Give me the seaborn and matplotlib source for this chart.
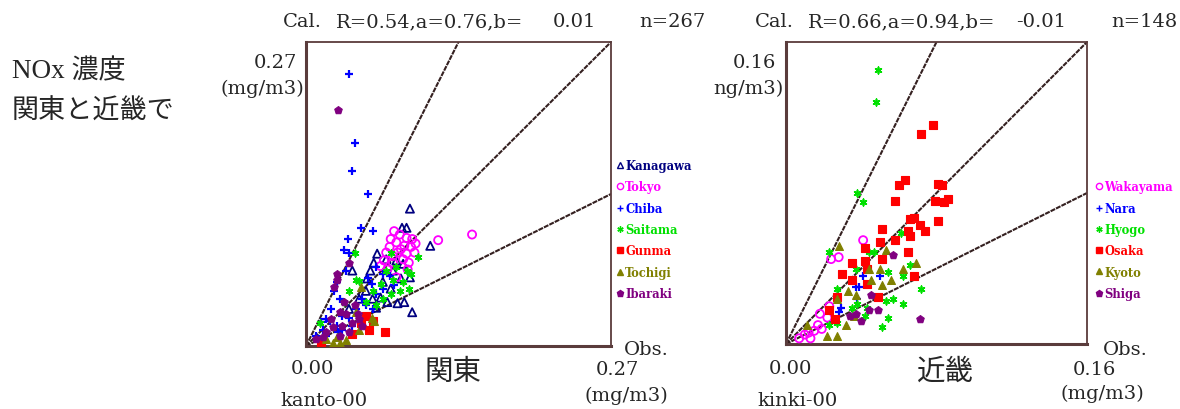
#!/usr/bin/env python3
"""
NOx obs vs cal scatter, Kanto and Kinki
"""

import pandas as pd
import numpy as np
import matplotlib
matplotlib.use("Agg")
import matplotlib.pyplot as plt
from matplotlib.lines import Line2D
import seaborn as sns

# ---- Kanto data (obs, cal) in mg/m3 ----
kanagawa_x = [0.092, 0.085, 0.089, 0.110, 0.063, 0.060, 0.057, 0.054, 0.071, 0.080, 0.086, 0.092, 0.068,
              0.075, 0.081, 0.087, 0.094, 0.053, 0.066, 0.041, 0.059, 0.077, 0.084, 0.072, 0.047, 0.062, 0.038]
kanagawa_y = [0.122, 0.105, 0.105, 0.089, 0.082, 0.074, 0.067, 0.060, 0.077, 0.076, 0.073, 0.061, 0.057,
              0.051, 0.038, 0.039, 0.030, 0.049, 0.043, 0.067, 0.042, 0.067, 0.060, 0.039, 0.042, 0.034, 0.033]
tokyo_x = [0.147, 0.117, 0.078, 0.083, 0.089, 0.094, 0.075, 0.080, 0.087, 0.093, 0.074, 0.071, 0.081,
           0.089, 0.096, 0.069, 0.077, 0.086, 0.072, 0.080, 0.090, 0.084, 0.097, 0.077, 0.091, 0.066]
tokyo_y = [0.099, 0.094, 0.102, 0.099, 0.096, 0.095, 0.095, 0.092, 0.089, 0.088, 0.088, 0.083, 0.083,
           0.082, 0.083, 0.076, 0.074, 0.077, 0.068, 0.061, 0.068, 0.086, 0.091, 0.080, 0.074, 0.071]
chiba_x = [0.038, 0.043, 0.041, 0.055, 0.049, 0.059, 0.037, 0.034, 0.038, 0.035, 0.027, 0.025, 0.030,
           0.022, 0.018, 0.027, 0.028, 0.015, 0.032, 0.021, 0.038, 0.044, 0.050, 0.055, 0.058, 0.062,
           0.068, 0.074, 0.078, 0.053, 0.059, 0.041, 0.032, 0.013, 0.009, 0.018, 0.062, 0.068]
chiba_y = [0.242, 0.180, 0.155, 0.135, 0.105, 0.102, 0.095, 0.085, 0.083, 0.067, 0.057, 0.049, 0.042,
           0.033, 0.024, 0.018, 0.012, 0.014, 0.027, 0.022, 0.025, 0.033, 0.042, 0.060, 0.055, 0.046,
           0.051, 0.062, 0.054, 0.036, 0.033, 0.018, 0.014, 0.021, 0.009, 0.009, 0.070, 0.064]
saitama_x = [0.043, 0.044, 0.047, 0.038, 0.053, 0.062, 0.071, 0.075, 0.077, 0.083, 0.089, 0.093, 0.099,
             0.086, 0.075, 0.068, 0.059, 0.012, 0.034, 0.066, 0.080, 0.091]
saitama_y = [0.083, 0.059, 0.058, 0.049, 0.039, 0.036, 0.067, 0.083, 0.059, 0.049, 0.067, 0.064, 0.079,
             0.057, 0.046, 0.042, 0.049, 0.020, 0.039, 0.055, 0.070, 0.051]
gunma_x = [0.056, 0.070, 0.053, 0.059, 0.041, 0.013, 0.049]
gunma_y = [0.014, 0.012, 0.027, 0.022, 0.011, 0.003, 0.020]
tochigi_x = [0.049, 0.058, 0.060, 0.024, 0.030, 0.035, 0.027, 0.044, 0.047, 0.018]
tochigi_y = [0.052, 0.025, 0.022, 0.003, 0.003, 0.005, 0.008, 0.030, 0.014, 0.006]
ibaraki_x = [0.028, 0.038, 0.027, 0.027, 0.025, 0.034, 0.030, 0.035, 0.043, 0.046, 0.041, 0.032, 0.024,
             0.018, 0.015, 0.047, 0.050, 0.038, 0.030, 0.009, 0.022]
ibaraki_y = [0.210, 0.074, 0.064, 0.059, 0.052, 0.039, 0.030, 0.028, 0.036, 0.028, 0.020, 0.018, 0.017,
             0.012, 0.008, 0.024, 0.018, 0.012, 0.009, 0.006, 0.024]

# ---- Kinki data ----
wakayama_x = [0.041, 0.024, 0.028, 0.023, 0.018, 0.022, 0.017, 0.015, 0.012, 0.010, 0.007, 0.019, 0.013]
wakayama_y = [0.055, 0.045, 0.046, 0.020, 0.016, 0.014, 0.010, 0.007, 0.006, 0.005, 0.003, 0.008, 0.003]
nara_x = [0.041, 0.050, 0.037, 0.039, 0.043, 0.038, 0.029, 0.028]
nara_y = [0.036, 0.036, 0.030, 0.030, 0.031, 0.024, 0.019, 0.017]
hyogo_x = [0.049, 0.048, 0.038, 0.041, 0.023, 0.044, 0.047, 0.037, 0.054, 0.062, 0.066, 0.072, 0.027,
           0.057, 0.053, 0.062, 0.054, 0.042, 0.035, 0.038, 0.023, 0.027, 0.051, 0.043, 0.061]
hyogo_y = [0.145, 0.128, 0.080, 0.075, 0.049, 0.049, 0.049, 0.040, 0.038, 0.036, 0.042, 0.029, 0.029,
           0.024, 0.023, 0.021, 0.014, 0.015, 0.019, 0.021, 0.010, 0.011, 0.009, 0.019, 0.059]
osaka_x = [0.078, 0.072, 0.063, 0.060, 0.081, 0.083, 0.058, 0.079, 0.084, 0.086, 0.081, 0.066, 0.068,
           0.071, 0.074, 0.065, 0.066, 0.051, 0.058, 0.050, 0.065, 0.042, 0.051, 0.042, 0.043, 0.035,
           0.030, 0.068, 0.035, 0.043, 0.049, 0.027, 0.026, 0.023]
osaka_y = [0.116, 0.111, 0.087, 0.084, 0.085, 0.084, 0.076, 0.076, 0.075, 0.077, 0.065, 0.066, 0.067,
           0.063, 0.060, 0.060, 0.057, 0.061, 0.055, 0.054, 0.049, 0.051, 0.045, 0.044, 0.040, 0.043,
           0.037, 0.036, 0.034, 0.032, 0.025, 0.025, 0.013, 0.018]
kyoto_x = [0.028, 0.053, 0.044, 0.050, 0.062, 0.069, 0.056, 0.051, 0.045, 0.033, 0.037, 0.027, 0.032,
           0.022, 0.027, 0.011, 0.036]
kyoto_y = [0.052, 0.050, 0.040, 0.040, 0.040, 0.043, 0.034, 0.031, 0.034, 0.028, 0.026, 0.024, 0.010,
           0.004, 0.004, 0.010, 0.015]
shiga_x = [0.057, 0.045, 0.044, 0.049, 0.040, 0.034, 0.071, 0.037]
shiga_y = [0.047, 0.026, 0.018, 0.018, 0.012, 0.015, 0.013, 0.016]

kanto_names = ["Kanagawa", "Tokyo", "Chiba", "Saitama", "Gunma", "Tochigi", "Ibaraki"]
kinki_names = ["Wakayama", "Nara", "Hyogo", "Osaka", "Kyoto", "Shiga"]
slopes = [2.0, 1.0, 0.5]

# style per prefecture: (color, marker, hollow)
style = {
    "Kanagawa": ("#000080", "^", True),
    "Tokyo": ("#ff00ff", "o", True),
    "Chiba": ("#0000ff", "+", False),
    "Saitama": ("#00e000", (6, 2, 0), False),
    "Gunma": ("#ff0000", "s", False),
    "Tochigi": ("#808000", "^", False),
    "Ibaraki": ("#800080", "p", False),
    "Wakayama": ("#ff00ff", "o", True),
    "Nara": ("#0000ff", "+", False),
    "Hyogo": ("#00e000", (6, 2, 0), False),
    "Osaka": ("#ff0000", "s", False),
    "Kyoto": ("#808000", "^", False),
    "Shiga": ("#800080", "p", False),
}

kanto = pd.concat([
    pd.DataFrame({"obs": kanagawa_x, "cal": kanagawa_y, "pref": "Kanagawa"}),
    pd.DataFrame({"obs": tokyo_x, "cal": tokyo_y, "pref": "Tokyo"}),
    pd.DataFrame({"obs": chiba_x, "cal": chiba_y, "pref": "Chiba"}),
    pd.DataFrame({"obs": saitama_x, "cal": saitama_y, "pref": "Saitama"}),
    pd.DataFrame({"obs": gunma_x, "cal": gunma_y, "pref": "Gunma"}),
    pd.DataFrame({"obs": tochigi_x, "cal": tochigi_y, "pref": "Tochigi"}),
    pd.DataFrame({"obs": ibaraki_x, "cal": ibaraki_y, "pref": "Ibaraki"}),
])
kinki = pd.concat([
    pd.DataFrame({"obs": wakayama_x, "cal": wakayama_y, "pref": "Wakayama"}),
    pd.DataFrame({"obs": nara_x, "cal": nara_y, "pref": "Nara"}),
    pd.DataFrame({"obs": hyogo_x, "cal": hyogo_y, "pref": "Hyogo"}),
    pd.DataFrame({"obs": osaka_x, "cal": osaka_y, "pref": "Osaka"}),
    pd.DataFrame({"obs": kyoto_x, "cal": kyoto_y, "pref": "Kyoto"}),
    pd.DataFrame({"obs": shiga_x, "cal": shiga_y, "pref": "Shiga"}),
])

sns.set_style("white")
plt.rcParams['font.family'] = ['DejaVu Serif', 'Noto Sans CJK JP']

W, H = 1180, 410
fig = plt.figure(figsize=(W / 100, H / 100), dpi=100)
frame = "#5a3c3c"


def px(x, y):
    return x / W, 1 - y / H


def draw_panel(rect, df, names, lim, leg_anchor):
    ax = fig.add_axes(rect)
    for s in slopes:
        ax.axline((0, 0), slope=s, color="#342020", lw=1.5, ls=(0, (2.4, 0.5)), zorder=1)
    handles = []
    for name in names:
        col, mk, hollow = style[name]
        sub = df[df["pref"] == name]
        if hollow:
            sns.scatterplot(data=sub, x="obs", y="cal", ax=ax, marker=mk, s=34,
                            facecolors="none", edgecolor=col, linewidth=1.3, zorder=3)
        elif mk == "+":
            sns.scatterplot(data=sub, x="obs", y="cal", ax=ax, marker=mk, s=38,
                            color=col, linewidth=1.6, zorder=3)
        elif name in ("Saitama", "Hyogo"):
            sns.scatterplot(data=sub, x="obs", y="cal", ax=ax, marker=mk, s=22,
                            color=col, edgecolor=col, linewidth=1.2, zorder=3)
        else:
            sns.scatterplot(data=sub, x="obs", y="cal", ax=ax, marker=mk, s=32,
                            color=col, edgecolor=col, linewidth=0.8, zorder=3)
        handles.append(Line2D([], [], ls="none", marker=mk, markersize=4.5,
                              color=col, markerfacecolor="none" if hollow else col,
                              markeredgewidth=1.0))
    ax.set_xlim(0, lim)
    ax.set_ylim(0, lim)
    ax.set_xticks([])
    ax.set_yticks([])
    ax.set_xlabel("")
    ax.set_ylabel("")
    for side in ["top", "right"]:
        ax.spines[side].set_color(frame)
        ax.spines[side].set_linewidth(1.3)
    for side in ["left", "bottom"]:
        ax.spines[side].set_color(frame)
        ax.spines[side].set_linewidth(2.2)
    ax.legend(handles, names, loc="upper left", bbox_to_anchor=leg_anchor,
              frameon=False, handlelength=0.5, handletextpad=0.2, labelspacing=0.72,
              borderaxespad=0, borderpad=0,
              prop={"family": "DejaVu Serif", "size": 8.3, "weight": "bold"},
              labelcolor="linecolor")
    return ax


draw_panel([306 / W, 1 - 347 / H, 305 / W, 304 / H], kanto, kanto_names, 0.27, (1.02, 0.615))
draw_panel([786 / W, 1 - 345 / H, 301 / W, 302 / H], kinki, kinki_names, 0.16, (1.03, 0.542))

tsize = 14
# left panel texts
fig.text(*px(283, 22), "Cal.", fontsize=tsize, va="center")
fig.text(*px(336, 22), "R=0.54,a=0.76,b=", fontsize=tsize, va="center")
fig.text(*px(596, 22), "0.01", fontsize=tsize, va="center", ha="right")
fig.text(*px(706, 22), "n=267", fontsize=tsize, va="center", ha="right")
fig.text(*px(297, 63), "0.27", fontsize=tsize, va="center", ha="right")
fig.text(*px(304, 89), "(mg/m3)", fontsize=tsize, va="center", ha="right")
fig.text(*px(312, 369), "0.00", fontsize=tsize, va="center", ha="center")
fig.text(*px(324, 401), "kanto-00", fontsize=tsize, va="center", ha="center")
fig.text(*px(453, 372), "関東", fontsize=20.5, va="center", ha="center",
         family=["Noto Sans CJK JP"])
fig.text(*px(617, 370), "0.27", fontsize=tsize, va="center", ha="center")
fig.text(*px(626, 396), "(mg/m3)", fontsize=tsize, va="center", ha="center")
fig.text(*px(646, 350), "Obs.", fontsize=tsize, va="center", ha="center")

# right panel texts
fig.text(*px(755, 22), "Cal.", fontsize=tsize, va="center")
fig.text(*px(808, 22), "R=0.66,a=0.94,b=", fontsize=tsize, va="center")
fig.text(*px(1066, 22), "-0.01", fontsize=tsize, va="center", ha="right")
fig.text(*px(1178, 22), "n=148", fontsize=tsize, va="center", ha="right")
fig.text(*px(776, 63), "0.16", fontsize=tsize, va="center", ha="right")
fig.text(*px(784, 89), "ng/m3)", fontsize=tsize, va="center", ha="right")
fig.text(*px(790, 369), "0.00", fontsize=tsize, va="center", ha="center")
fig.text(*px(798, 401), "kinki-00", fontsize=tsize, va="center", ha="center")
fig.text(*px(945, 372), "近畿", fontsize=20.5, va="center", ha="center",
         family=["Noto Sans CJK JP"])
fig.text(*px(1094, 370), "0.16", fontsize=tsize, va="center", ha="center")
fig.text(*px(1102, 394), "(mg/m3)", fontsize=tsize, va="center", ha="center")
fig.text(*px(1125, 350), "Obs.", fontsize=tsize, va="center", ha="center")

# side note
fig.text(*px(12, 72), "NOx 濃度", fontsize=19.5, va="center",
         family=["Liberation Serif", "Noto Sans CJK JP"])
fig.text(*px(12, 111), "関東と近畿で", fontsize=19.5, va="center",
         family=["Noto Sans CJK JP"])

fig.savefig("out.png", dpi=100)
